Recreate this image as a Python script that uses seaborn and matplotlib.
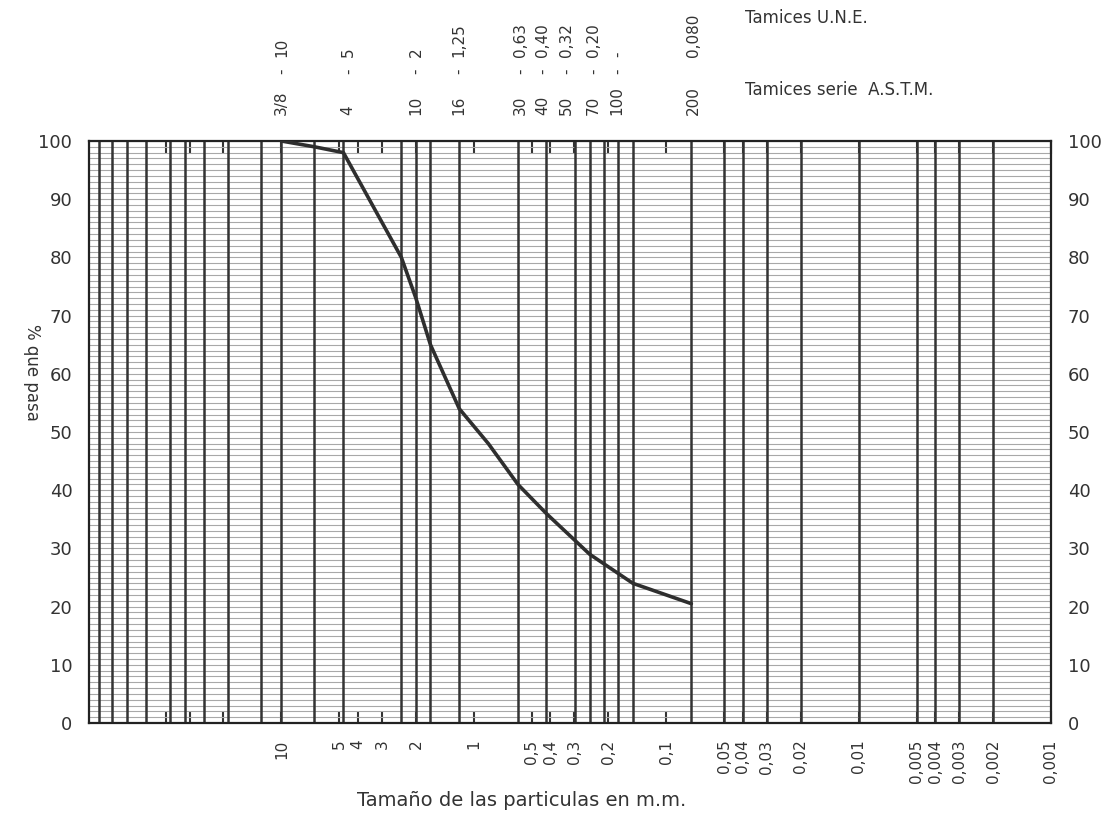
import matplotlib
matplotlib.use("Agg")
import matplotlib.pyplot as plt
import matplotlib.transforms as mtransforms
from matplotlib.ticker import NullLocator, FixedLocator
import seaborn as sns
import pandas as pd

# ---------------- data ----------------
grain_mm = [10, 6.73, 4.76, 2.38, 2.0, 1.68, 1.19, 0.84, 0.59, 0.42, 0.25, 0.149, 0.074]
passing_pct = [100, 99, 98, 80, 73, 65, 54, 48, 41, 36, 29, 24, 20.5]

# heavy vertical lines of the printed paper (sieve openings, mm)
sieve_lines_mm = [88.9, 76.2, 63.5, 50.8, 38.1, 31.75, 25.4, 19.05, 12.7, 10, 6.73, 4.76,
                  2.38, 2.0, 1.68, 1.19, 0.59, 0.42, 0.297, 0.25, 0.21, 0.177, 0.149,
                  0.074, 0.05, 0.04, 0.03, 0.02, 0.01, 0.005, 0.004, 0.003, 0.002]

# bottom axis ticks
xtick_mm = [40, 30, 20, 10, 5, 4, 3, 2, 1, 0.5, 0.4, 0.3, 0.2, 0.1, 0.05, 0.04, 0.03,
            0.02, 0.01, 0.005, 0.004, 0.003, 0.002, 0.001]
xtick_labels = ["", "", "", "10", "5", "4", "3", "2", "1", "0,5", "0,4", "0,3", "0,2",
                "0,1", "0,05", "0,04", "0,03", "0,02", "0,01", "0,005", "0,004", "0,003",
                "0,002", "0,001"]

# top sieve labels (A.S.T.M. number / U.N.E. opening)
top_label_mm = [10, 4.5, 2.0, 1.2, 0.57, 0.44, 0.33, 0.24, 0.18, 0.072]
astm_labels = ["3/8", "4", "10", "16", "30", "40", "50", "70", "100", "200"]
une_labels = ["10", "5", "2", "1,25", "0,63", "0,40", "0,32", "0,20", "-", "0,080"]
has_dash = [True, True, True, True, True, True, True, True, True, False]

ytick_vals = list(range(0, 101, 10))

# ---------------- figure ----------------
sns.set_theme(style="white")
plt.rcParams["font.family"] = ["DejaVu Sans"]

W, H = 1105, 816
fig = plt.figure(figsize=(W / 100, H / 100), dpi=100)
ax = fig.add_axes([89 / W, 1 - 723 / H, (1051 - 89) / W, (723 - 141) / H])

ax.set_xscale("log")
ax.set_xlim(100, 0.001)
ax.set_ylim(0, 100)

# horizontal 1% ruling
ax.set_yticks(ytick_vals)
ax.yaxis.set_minor_locator(FixedLocator(list(range(0, 101, 1))))
ax.grid(which="both", axis="y", color="#a8a8a8", lw=0.8)
ax.grid(which="both", axis="x", visible=False)

# heavy vertical lines
ax.vlines(sieve_lines_mm, 0, 100, colors="#333333", lw=1.8, zorder=2)

# curve
df = pd.DataFrame({"mm": grain_mm, "pct": passing_pct})
sns.lineplot(data=df, x="mm", y="pct", sort=False, color="#2e2e2e", lw=2.6, ax=ax, zorder=5)

# ticks
ax.xaxis.set_minor_locator(NullLocator())
ax.set_xticks(xtick_mm)
ax.set_xticklabels(xtick_labels, rotation=90, fontsize=11, color="#333333")
ax.tick_params(axis="x", which="major", direction="in", length=9, width=1.5,
               top=True, bottom=True, color="#333333", pad=12)
ax.set_yticklabels([str(v) for v in ytick_vals], fontsize=13, color="#333333")
ax.tick_params(axis="y", which="both", length=0, left=False, right=False,
               labelleft=True, labelright=True, pad=12)

for s in ax.spines.values():
    s.set_visible(True)
    s.set_color("#222222")
    s.set_linewidth(1.6)

ax.set_xlabel("")
ax.set_ylabel("")

# x title and y title
fig.text(522 / W, 1 - 800 / H, "Tamaño de las particulas en m.m.", ha="center", va="center",
         fontsize=14, color="#333333")
fig.text(32 / W, 1 - 372 / H, "% que pasa", ha="center", va="center", rotation=-90,
         fontsize=12, color="#333333")

# top sieve labels
trans = mtransforms.blended_transform_factory(ax.transData, fig.transFigure)
for xm, a, u, d in zip(top_label_mm, astm_labels, une_labels, has_dash):
    ax.text(xm, 1 - 115 / H, a, transform=trans, rotation=90, ha="center", va="bottom",
            fontsize=11, color="#333333", clip_on=False)
    if d:
        ax.text(xm, 1 - 71 / H, "-", transform=trans, rotation=90, ha="center", va="center",
                fontsize=11, color="#333333", clip_on=False)
    ax.text(xm, 1 - 57 / H, u, transform=trans, rotation=90, ha="center", va="bottom",
            fontsize=11, color="#333333", clip_on=False)

fig.text(745 / W, 1 - 18 / H, "Tamices U.N.E.", ha="left", va="center", fontsize=12,
         color="#333333")
fig.text(745 / W, 1 - 90 / H, "Tamices serie  A.S.T.M.", ha="left", va="center", fontsize=12,
         color="#333333")

fig.savefig("out.png", dpi=100, facecolor="white")
